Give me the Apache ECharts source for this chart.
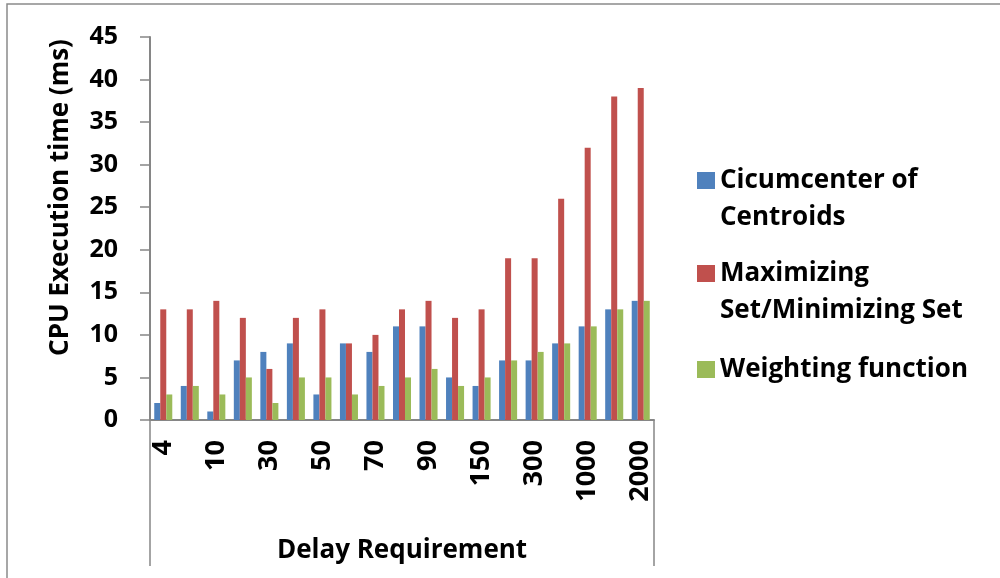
<!DOCTYPE html>
<html>
<head>
<meta charset="utf-8">
<script src="https://cdn.jsdelivr.net/npm/echarts@6/dist/echarts.min.js"></script>
<style>html,body{margin:0;padding:0;background:#fff}#c{width:1000px;height:578px}</style>
</head>
<body>
<div id="c"></div>
<script>
const categories = ['4','5','10','20','30','40','50','60','70','80','90','100','150','200','300','500','1000','1500','2000'];
const cicumcenter = [2,4,1,7,8,9,3,9,8,11,11,5,4,7,7,9,11,13,14];
const maximizing = [13,13,14,12,6,12,13,9,10,13,14,12,13,19,19,26,32,38,39];
const weighting = [3,4,3,5,2,5,5,3,4,5,6,4,5,7,8,9,11,13,14];
const seriesNames = ['Cicumcenter of\nCentroids', 'Maximizing\nSet/Minimizing Set', 'Weighting function'];
const yTicks = [0,5,10,15,20,25,30,35,40,45];

const FONT = 'Open Sans';
const axisColor = '#868686';
const chart = echarts.init(document.getElementById('c'), null, {renderer:'canvas'});

function legendFor(name, top, twoLine) {
  return {
    data: [name],
    left: 697,
    top: top,
    orient: 'vertical',
    padding: 0,
    itemWidth: 18,
    itemHeight: 17,
    icon: 'rect',
    selectedMode: false,
    formatter: function (n) { return twoLine ? '\n' + n : n; },
    textStyle: {
      fontFamily: FONT, fontWeight: 'bold', fontSize: 26, color: '#000',
      lineHeight: 37
    }
  };
}

chart.setOption({
  animation: false,
  color: ['#4F81BD', '#C0504D', '#9BBB59'],
  grid: { left: 150, right: 346, top: 37, bottom: 158, containLabel: false },
  legend: [
    legendFor(seriesNames[0], 125, true),
    legendFor(seriesNames[1], 218, true),
    legendFor(seriesNames[2], 351, false)
  ],
  graphic: [
    { type: 'rect', shape: { x: 7, y: 4, width: 1200, height: 800 },
      style: { fill: 'none', stroke: '#8a8a8a', lineWidth: 1.5 }, silent: true }
  ],
  xAxis: {
    type: 'category',
    data: categories,
    name: 'Delay Requirement',
    nameLocation: 'middle',
    nameGap: 118,
    nameTextStyle: { fontFamily: FONT, fontWeight: 'bold', fontSize: 26, color: '#000' },
    axisLine: { lineStyle: { color: axisColor, width: 2 } },
    axisTick: { show: true, length: 146, interval: function (i) { return i === 0; },
                lineStyle: { color: axisColor, width: 1.5 } },
    axisLabel: { interval: 1, rotate: 90, margin: 20, fontFamily: FONT, fontWeight: 'bold',
                 fontSize: 27, color: '#000' },
    splitLine: { show: false }
  },
  yAxis: {
    type: 'value',
    min: 0, max: 45, interval: 5,
    name: 'CPU Execution time (ms)',
    nameLocation: 'middle',
    nameGap: 76,
    nameTextStyle: { fontFamily: FONT, fontWeight: 'bold', fontSize: 26, color: '#000',
                     padding: [0, 0, 0, 62] },
    axisLine: { show: true, lineStyle: { color: axisColor, width: 2 } },
    axisTick: { show: true, length: 10, lineStyle: { color: axisColor, width: 1.5 } },
    axisLabel: { margin: 32, fontFamily: FONT, fontWeight: 'bold', fontSize: 25, color: '#000',
                 formatter: function (v) { return yTicks.indexOf(v) >= 0 ? String(v) : ''; } },
    splitLine: { show: false }
  },
  series: [
    { name: seriesNames[0], type: 'bar', data: cicumcenter, barGap: '0%', barCategoryGap: '32%' },
    { name: seriesNames[1], type: 'bar', data: maximizing, barGap: '0%', barCategoryGap: '32%' },
    { name: seriesNames[2], type: 'bar', data: weighting, barGap: '0%', barCategoryGap: '32%' }
  ]
});
</script>
</body>
</html>
